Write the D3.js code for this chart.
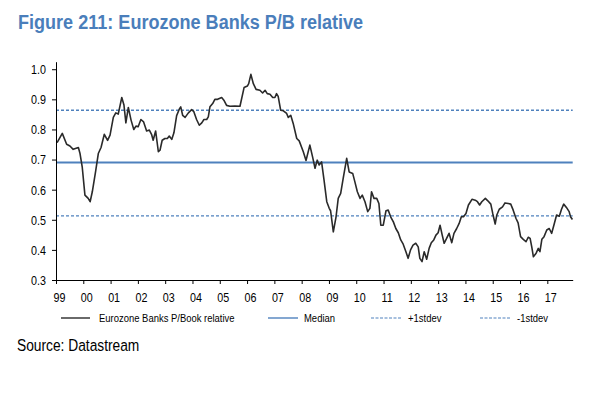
<!DOCTYPE html>
<html>
<head>
<meta charset="utf-8">
<script src="https://cdn.jsdelivr.net/npm/d3@7"></script>
<style>
  body { margin: 0; background: #fff; }
  text { font-family: "Liberation Sans", Arial, sans-serif; }
</style>
</head>
<body>
<svg id="chart" width="600" height="395"></svg>
<script>
// Data (decimal year, P/B relative)
const dates = [
  1999.04, 1999.23, 1999.39, 1999.51, 1999.63, 1999.82, 1999.88, 1999.96,
  2000.06, 2000.18, 2000.25, 2000.33, 2000.45, 2000.55, 2000.65, 2000.77, 2000.89, 2000.98,
  2001.10, 2001.19, 2001.28, 2001.41, 2001.49, 2001.56, 2001.65, 2001.75, 2001.85, 2001.93,
  2002.01, 2002.11, 2002.21, 2002.32, 2002.42, 2002.50, 2002.56, 2002.65, 2002.75, 2002.81, 2002.89, 2002.99,
  2003.08, 2003.15, 2003.24, 2003.32, 2003.42, 2003.52, 2003.57, 2003.64, 2003.73, 2003.85, 2003.97,
  2004.05, 2004.15, 2004.25, 2004.34, 2004.42, 2004.52, 2004.58, 2004.64, 2004.74, 2004.82, 2004.92,
  2005.07, 2005.15, 2005.25, 2005.37, 2005.55, 2005.74, 2005.89,
  2006.01, 2006.06, 2006.14, 2006.23, 2006.33, 2006.47, 2006.57, 2006.66, 2006.74, 2006.84, 2006.94,
  2007.02, 2007.08, 2007.14, 2007.23, 2007.33, 2007.45, 2007.51, 2007.60, 2007.69, 2007.82, 2007.91,
  2008.06, 2008.16, 2008.30, 2008.40, 2008.49, 2008.57, 2008.64, 2008.73, 2008.82, 2008.92,
  2009.01, 2009.06, 2009.16, 2009.26, 2009.34, 2009.43, 2009.52, 2009.65, 2009.74, 2009.87, 2009.95,
  2010.04, 2010.14, 2010.22, 2010.32, 2010.42, 2010.50, 2010.56, 2010.65, 2010.75, 2010.83, 2010.90, 2010.99,
  2011.09, 2011.17, 2011.26, 2011.36, 2011.45, 2011.54, 2011.63, 2011.72, 2011.82, 2011.90, 2011.99,
  2012.08, 2012.18, 2012.27, 2012.33, 2012.41, 2012.49, 2012.58, 2012.67, 2012.75, 2012.84, 2012.92,
  2013.00, 2013.07, 2013.15, 2013.22, 2013.31, 2013.40, 2013.50, 2013.58, 2013.68, 2013.77, 2013.85, 2013.93,
  2014.02, 2014.11, 2014.24, 2014.36, 2014.44, 2014.52, 2014.60, 2014.73, 2014.82, 2014.93,
  2015.00, 2015.09, 2015.15, 2015.24, 2015.36, 2015.45, 2015.57, 2015.66, 2015.75, 2015.85, 2015.93,
  2016.02, 2016.12, 2016.22, 2016.30, 2016.37, 2016.43, 2016.49, 2016.59, 2016.67, 2016.73, 2016.80, 2016.88, 2016.98,
  2017.07, 2017.16, 2017.24, 2017.34, 2017.44, 2017.52, 2017.60, 2017.70, 2017.80, 2017.85, 2017.92
];

const pbRelative = [
  0.756, 0.787, 0.751, 0.745, 0.734, 0.740, 0.720, 0.676,
  0.582, 0.571, 0.560, 0.593, 0.660, 0.720, 0.740, 0.784, 0.764, 0.781,
  0.840, 0.855, 0.851, 0.906, 0.881, 0.822, 0.873, 0.831, 0.800, 0.811,
  0.809, 0.833, 0.825, 0.795, 0.798, 0.784, 0.764, 0.795, 0.726, 0.731, 0.764, 0.770,
  0.770, 0.778, 0.767, 0.789, 0.846, 0.868, 0.875, 0.847, 0.840, 0.855, 0.866,
  0.859, 0.833, 0.814, 0.822, 0.833, 0.833, 0.842, 0.875, 0.886, 0.900, 0.900,
  0.906, 0.897, 0.880, 0.877, 0.878, 0.877, 0.939,
  0.944, 0.952, 0.983, 0.952, 0.933, 0.930, 0.921, 0.930, 0.919, 0.917, 0.906,
  0.906, 0.919, 0.910, 0.864, 0.862, 0.853, 0.840, 0.847, 0.820, 0.770, 0.762,
  0.726, 0.697, 0.748, 0.709, 0.671, 0.698, 0.682, 0.692, 0.632, 0.560,
  0.538, 0.530, 0.460, 0.510, 0.571, 0.588, 0.637, 0.704, 0.659, 0.654, 0.626,
  0.593, 0.571, 0.582, 0.560, 0.527, 0.538, 0.593, 0.571, 0.571, 0.554, 0.482, 0.482,
  0.530, 0.532, 0.510, 0.493, 0.471, 0.457, 0.433, 0.419, 0.394, 0.372, 0.400,
  0.416, 0.422, 0.410, 0.372, 0.361, 0.394, 0.369, 0.405, 0.424, 0.433, 0.449,
  0.457, 0.482, 0.449, 0.422, 0.438, 0.455, 0.424, 0.455, 0.471, 0.488, 0.510, 0.510,
  0.521, 0.549, 0.568, 0.565, 0.560, 0.549, 0.560, 0.571, 0.563, 0.552,
  0.521, 0.486, 0.516, 0.535, 0.543, 0.556, 0.554, 0.552, 0.532, 0.505, 0.490,
  0.444, 0.435, 0.427, 0.442, 0.438, 0.410, 0.377, 0.389, 0.405, 0.394, 0.435, 0.444, 0.466,
  0.471, 0.455, 0.482, 0.516, 0.512, 0.535, 0.552, 0.541, 0.527, 0.510, 0.501
];

const medianValue = 0.69;
const plusOneSd = 0.864;
const minusOneSd = 0.513;

const yTicks = [0.3, 0.4, 0.5, 0.6, 0.7, 0.8, 0.9, 1.0];
const yearTicks = d3.range(1999, 2018);
const yearLabels = ["99", "00", "01", "02", "03", "04", "05", "06", "07", "08",
  "09", "10", "11", "12", "13", "14", "15", "16", "17"];
const legendLabels = ["Eurozone Banks P/Book relative", "Median", "+1stdev", "-1stdev"];

const blue = "#4f81bd";
const squeeze = 0.86; // the reference uses a narrow face

const svg = d3.select("#chart");

// scales
const x = d3.scaleLinear().domain([1999, 2017.93]).range([56, 572.7]);
const y = d3.scaleLinear().domain([0.3, 1.025]).range([280, 61.7]);

// title
svg.append("text")
  .attr("transform", `translate(18,29) scale(${squeeze},1)`)
  .attr("font-size", 21)
  .attr("font-weight", "bold")
  .attr("fill", "#4a7ebb")
  .text("Figure 211: Eurozone Banks P/B relative");

// reference lines
const refLines = [
  { v: medianValue, dash: null, w: 2 },
  { v: plusOneSd, dash: "3,2", w: 1.4 },
  { v: minusOneSd, dash: "3,2", w: 1.4 }
];
svg.append("g").selectAll("line")
  .data(refLines)
  .join("line")
  .attr("x1", x.range()[0])
  .attr("x2", x.range()[1])
  .attr("y1", d => y(d.v))
  .attr("y2", d => y(d.v))
  .attr("stroke", blue)
  .attr("stroke-width", d => d.w)
  .attr("stroke-dasharray", d => d.dash);

// series
const series = dates.map((d, i) => ({ t: d, v: pbRelative[i] }));
const line = d3.line().x(d => x(d.t)).y(d => y(d.v));
svg.append("path")
  .datum(series)
  .attr("d", line)
  .attr("fill", "none")
  .attr("stroke", "#2a2a2a")
  .attr("stroke-width", 1.6)
  .attr("stroke-linejoin", "round");

// axes
const yAxis = svg.append("g")
  .attr("transform", "translate(56,0)")
  .call(d3.axisLeft(y).tickValues(yTicks).tickFormat(d3.format(".1f")).tickSize(4).tickSizeOuter(0));

const xAxis = svg.append("g")
  .attr("transform", "translate(0,280)")
  .call(d3.axisBottom(x).tickValues(yearTicks).tickFormat((d, i) => yearLabels[i]).tickSize(4).tickSizeOuter(0));

[yAxis, xAxis].forEach(g => {
  g.selectAll(".domain, .tick line").attr("stroke", "#000").attr("stroke-width", 1);
  g.selectAll("text").attr("fill", "#000").attr("font-size", 12.5).attr("font-family", null);
});

yAxis.selectAll("text")
  .attr("x", 0)
  .attr("dy", "0.35em")
  .attr("transform", `translate(-10,0) scale(${squeeze},1)`);

xAxis.selectAll("text")
  .attr("y", 0)
  .attr("dy", 0)
  .attr("transform", `translate(3,21.7) scale(${squeeze},1)`);

// legend
const legendLayout = [
  { x1: 61, x2: 90, tx: 99, stroke: "#2a2a2a", dash: null, w: 1.4 },
  { x1: 268, x2: 298, tx: 304, stroke: blue, dash: null, w: 1.4 },
  { x1: 371, x2: 402, tx: 408, stroke: blue, dash: "3,1.5", w: 1 },
  { x1: 480, x2: 511, tx: 517, stroke: blue, dash: "3,1.5", w: 1 }
];
const legend = svg.append("g").attr("transform", "translate(0,318)");
const item = legend.selectAll("g")
  .data(legendLabels)
  .join("g");
item.append("line")
  .attr("x1", (d, i) => legendLayout[i].x1)
  .attr("x2", (d, i) => legendLayout[i].x2)
  .attr("stroke", (d, i) => legendLayout[i].stroke)
  .attr("stroke-width", (d, i) => legendLayout[i].w)
  .attr("stroke-dasharray", (d, i) => legendLayout[i].dash);
item.append("text")
  .attr("transform", (d, i) => `translate(${legendLayout[i].tx},4) scale(${squeeze},1)`)
  .attr("font-size", 11)
  .attr("fill", "#000")
  .text(d => d);

// source
svg.append("text")
  .attr("transform", `translate(17,351) scale(${squeeze - 0.05},1)`)
  .attr("font-size", 17)
  .attr("fill", "#000")
  .text("Source: Datastream");
</script>
</body>
</html>
